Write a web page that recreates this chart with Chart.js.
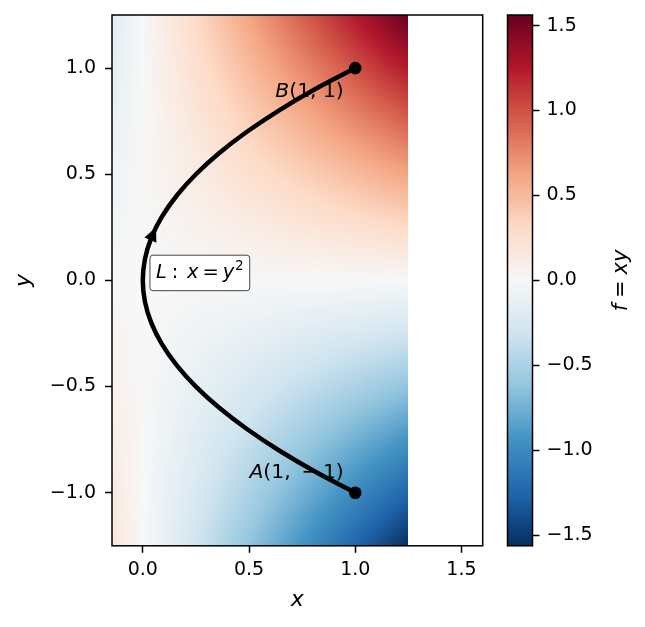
<!DOCTYPE html>
<html><head><meta charset="utf-8">
<script src="https://cdn.jsdelivr.net/npm/chart.js@4.4.0/dist/chart.umd.min.js"></script>
<style>
html,body{margin:0;padding:0;background:#fff;}
#wrap{position:relative;width:645px;height:627px;}
canvas{position:absolute;left:0;top:0;}
</style>
</head><body>
<div id="wrap"><canvas id="main" width="645" height="627"></canvas><canvas id="cb" width="645" height="627"></canvas></div>
<script>
// ---- data ----
const curveY = [-1.0,-0.9,-0.8,-0.7,-0.6,-0.5,-0.4,-0.3,-0.2,-0.1,0.0,0.1,0.2,0.3,0.4,0.5,0.6,0.7,0.8,0.9,1.0];
const curveX = [1.00,0.81,0.64,0.49,0.36,0.25,0.16,0.09,0.04,0.01,0.00,0.01,0.04,0.09,0.16,0.25,0.36,0.49,0.64,0.81,1.00];
const endPointsX = [1, 1];
const endPointsY = [-1, 1];
const endLabelNames = ['A', 'B'];
const endLabelCoords = ['(1, ', '(1, 1)'];
const endLabelBaseY = [-0.932, 0.864];
const endLabelRightX = [0.946, 0.946];
const fieldXRange = [-0.15, 1.25];
const fieldYRange = [-1.25, 1.25];
const colorRange = [-1.5625, 1.5625];
const xLimits = [-0.145, 1.6];
const yLimits = [-1.25, 1.25];
const xTicks = [0.0, 0.5, 1.0, 1.5];
const yTicks = [-1.0, -0.5, 0.0, 0.5, 1.0];
const cbTicks = [-1.5, -1.0, -0.5, 0.0, 0.5, 1.0, 1.5];
const arrowTail = [0.036, 0.19];
const arrowTip = [0.062, 0.25];
const curveLabelPos = [0.062, 0.009];
const fieldValue = (x, y) => x * y;   // f = xy

// RdBu_r colormap stops (low -> high)
const cmapStops = [[5,48,97],[33,102,172],[67,147,195],[146,197,222],[209,229,240],[247,247,247],[253,219,199],[244,165,130],[214,96,77],[178,24,43],[103,0,31]];
function cmap(t) {
  t = Math.max(0, Math.min(1, t));
  const s = t * (cmapStops.length - 1);
  const i = Math.min(Math.floor(s), cmapStops.length - 2);
  const f = s - i;
  const a = cmapStops[i], b = cmapStops[i + 1];
  return [a[0] + (b[0]-a[0])*f, a[1] + (b[1]-a[1])*f, a[2] + (b[2]-a[2])*f];
}

const FAM = '"DejaVu Sans", sans-serif';
const TICK = 19, LABEL = 22, ANN = 20.3, LBOX = 19.5;
const fmt = v => (v < 0 ? '\u2212' : '') + Math.abs(v).toFixed(1);

function segFont(s, size) {
  const sz = s.sup ? size * 0.7 : size;
  return (s.it ? 'italic ' : '') + sz + 'px ' + FAM;
}
function mathWidth(ctx, segs, size) {
  let w = 0;
  for (const s of segs) {
    if (s.gap !== undefined) { w += s.gap * size; continue; }
    ctx.font = segFont(s, size);
    w += ctx.measureText(s.t).width;
  }
  return w;
}
function drawMath(ctx, segs, x, y, size, align) {
  const w = mathWidth(ctx, segs, size);
  let cx = align === 'right' ? x - w : align === 'center' ? x - w / 2 : x;
  ctx.textBaseline = 'alphabetic';
  ctx.textAlign = 'left';
  for (const s of segs) {
    if (s.gap !== undefined) { cx += s.gap * size; continue; }
    ctx.font = segFont(s, size);
    ctx.fillText(s.t, cx, s.sup ? y - size * 0.42 : y);
    cx += ctx.measureText(s.t).width;
  }
  return w;
}

const mainPlugin = {
  id: 'mainPlugin',
  beforeDatasetsDraw(chart) {
    const {ctx, chartArea: ca, scales: {x: xs, y: ys}} = chart;
    const l = Math.floor(ca.left), t = Math.floor(ca.top);
    const w = Math.ceil(ca.right) - l, h = Math.ceil(ca.bottom) - t;
    const off = document.createElement('canvas');
    off.width = w; off.height = h;
    const octx = off.getContext('2d');
    const img = octx.createImageData(w, h);
    for (let j = 0; j < h; j++) {
      const yv = ys.getValueForPixel(t + j + 0.5);
      for (let i = 0; i < w; i++) {
        const xv = xs.getValueForPixel(l + i + 0.5);
        const k = (j * w + i) * 4;
        if (xv < fieldXRange[0] || xv > fieldXRange[1] || yv < fieldYRange[0] || yv > fieldYRange[1]) { img.data[k+3] = 0; continue; }
        const c = cmap((fieldValue(xv, yv) - colorRange[0]) / (colorRange[1] - colorRange[0]));
        img.data[k] = c[0]; img.data[k+1] = c[1]; img.data[k+2] = c[2]; img.data[k+3] = 255;
      }
    }
    octx.putImageData(img, 0, 0);
    ctx.save();
    ctx.beginPath(); ctx.rect(ca.left, ca.top, ca.right - ca.left, ca.bottom - ca.top); ctx.clip();
    ctx.drawImage(off, l, t);
    ctx.fillStyle = '#000';
    for (let i = 0; i < endLabelNames.length; i++) {
      const segs = [{t: endLabelNames[i], it: true}, {t: endLabelCoords[i]}];
      if (i === 0) segs.push({gap: 0.22}, {t: '\u2212'}, {gap: 0.22}, {t: '1)'});
      drawMath(ctx, segs, xs.getPixelForValue(endLabelRightX[i]), ys.getPixelForValue(endLabelBaseY[i]), ANN, 'right');
    }
    ctx.restore();
  },
  afterDatasetsDraw(chart) {
    const {ctx, scales: {x: xs, y: ys}} = chart;
    ctx.save();
    const tx = xs.getPixelForValue(arrowTip[0]), ty = ys.getPixelForValue(arrowTip[1]);
    const bx = xs.getPixelForValue(arrowTail[0]), by = ys.getPixelForValue(arrowTail[1]);
    let dx = tx - bx, dy = ty - by; const n = Math.hypot(dx, dy); dx /= n; dy /= n;
    const L = 14, W = 6.5;
    ctx.fillStyle = '#000';
    ctx.beginPath();
    ctx.moveTo(tx, ty);
    ctx.lineTo(tx - dx*L - dy*W, ty - dy*L + dx*W);
    ctx.lineTo(tx - dx*L + dy*W, ty - dy*L - dx*W);
    ctx.closePath(); ctx.fill();
    const segs = [{t:'L', it:true}, {gap:0.25}, {t:':'}, {gap:0.45}, {t:'x', it:true}, {gap:0.2}, {t:'='}, {gap:0.2}, {t:'y', it:true}, {gap:0.04}, {t:'2', sup:true}];
    const px = xs.getPixelForValue(curveLabelPos[0]), py = ys.getPixelForValue(curveLabelPos[1]);
    const tw = mathWidth(ctx, segs, LBOX);
    const bx0 = px - 6, bx1 = px + tw + 6, by0 = py - 23.3, by1 = py + 12.2;
    ctx.beginPath();
    ctx.roundRect(bx0, by0, bx1 - bx0, by1 - by0, 3);
    ctx.fillStyle = '#fff'; ctx.fill();
    ctx.strokeStyle = '#444'; ctx.lineWidth = 1; ctx.stroke();
    ctx.fillStyle = '#000';
    drawMath(ctx, segs, px, py, LBOX, 'left');
    ctx.restore();
  },
  afterDraw(chart) {
    const {ctx, chartArea: ca} = chart;
    ctx.save();
    ctx.strokeStyle = '#000'; ctx.lineWidth = 1.5;
    ctx.strokeRect(ca.left, ca.top, ca.right - ca.left, ca.bottom - ca.top);
    ctx.fillStyle = '#000';
    drawMath(ctx, [{t:'x', it:true}], (ca.left + ca.right) / 2, 606, LABEL, 'center');
    ctx.translate(30, (ca.top + ca.bottom) / 2);
    ctx.rotate(-Math.PI / 2);
    drawMath(ctx, [{t:'y', it:true}], 0, 0, LABEL, 'center');
    ctx.restore();
  }
};

const noPad = s => { s.paddingTop = 0; s.paddingBottom = 0; s.paddingLeft = 0; s.paddingRight = 0; };

new Chart(document.getElementById('main'), {
  type: 'scatter',
  data: {
    datasets: [
      { data: curveX.map((x, i) => ({x, y: curveY[i]})), showLine: true, borderColor: '#000', borderWidth: 4.5, pointRadius: 0, tension: 0.4, fill: false, borderCapStyle: 'round' },
      { data: endPointsX.map((x, i) => ({x, y: endPointsY[i]})), showLine: false, pointRadius: 6.3, pointBackgroundColor: '#000', pointBorderWidth: 0, pointBorderColor: '#000' }
    ]
  },
  options: {
    responsive: false, animation: false, events: [],
    layout: { padding: { left: 0, top: 15, right: 162.3, bottom: 0 } },
    plugins: { legend: { display: false }, tooltip: { enabled: false } },
    scales: {
      x: {
        type: 'linear', min: xLimits[0], max: xLimits[1],
        afterBuildTicks: s => { s.ticks = xTicks.map(v => ({value: v})); },
        afterFit: s => { s.height = 627 - 545.8; noPad(s); },
        grid: { drawOnChartArea: false, drawTicks: true, tickLength: 7, tickWidth: 1.5, tickColor: '#000' },
        border: { display: false },
        ticks: { padding: 6, color: '#000', font: { family: FAM, size: TICK }, callback: v => fmt(v), maxRotation: 0, autoSkip: false }
      },
      y: {
        type: 'linear', min: yLimits[0], max: yLimits[1],
        afterBuildTicks: s => { s.ticks = yTicks.map(v => ({value: v})); },
        afterFit: s => { s.width = 112; noPad(s); },
        grid: { drawOnChartArea: false, drawTicks: true, tickLength: 7, tickWidth: 1.5, tickColor: '#000' },
        border: { display: false },
        ticks: { padding: 9, color: '#000', font: { family: FAM, size: TICK }, callback: v => fmt(v), autoSkip: false }
      }
    }
  },
  plugins: [mainPlugin]
});

const cbPlugin = {
  id: 'cbPlugin',
  beforeDatasetsDraw(chart) {
    const {ctx, chartArea: ca, scales: {y: ys}} = chart;
    ctx.save();
    for (let py = Math.floor(ca.top); py < Math.ceil(ca.bottom); py++) {
      const c = cmap((ys.getValueForPixel(py + 0.5) - colorRange[0]) / (colorRange[1] - colorRange[0]));
      ctx.fillStyle = `rgb(${c[0]|0},${c[1]|0},${c[2]|0})`;
      const y0 = Math.max(py, ca.top), y1 = Math.min(py + 1, ca.bottom);
      ctx.fillRect(ca.left, y0, ca.right - ca.left, y1 - y0);
    }
    ctx.strokeStyle = '#000'; ctx.lineWidth = 1.5;
    ctx.strokeRect(ca.left, ca.top, ca.right - ca.left, ca.bottom - ca.top);
    ctx.fillStyle = '#000';
    ctx.translate(626.8, (ca.top + ca.bottom) / 2);
    ctx.rotate(-Math.PI / 2);
    drawMath(ctx, [{t:'f', it:true}, {gap:0.28}, {t:'='}, {gap:0.28}, {t:'xy', it:true}], 0, 0, 21, 'center');
    ctx.restore();
  }
};

new Chart(document.getElementById('cb'), {
  type: 'scatter',
  data: { datasets: [] },
  options: {
    responsive: false, animation: false, events: [],
    layout: { padding: { left: 507.5, top: 15, right: 0, bottom: 627 - 545.8 } },
    plugins: { legend: { display: false }, tooltip: { enabled: false } },
    scales: {
      x: { display: false, min: 0, max: 1 },
      y: {
        type: 'linear', position: 'right', min: colorRange[0], max: colorRange[1],
        afterBuildTicks: s => { s.ticks = cbTicks.map(v => ({value: v})); },
        afterFit: s => { s.width = 645 - 532.5; noPad(s); },
        grid: { drawOnChartArea: false, drawTicks: true, tickLength: 7, tickWidth: 1.5, tickColor: '#000' },
        border: { display: false },
        ticks: { padding: 7, color: '#000', font: { family: FAM, size: TICK }, callback: v => fmt(v), autoSkip: false }
      }
    }
  },
  plugins: [cbPlugin]
});
</script>
</body></html>
